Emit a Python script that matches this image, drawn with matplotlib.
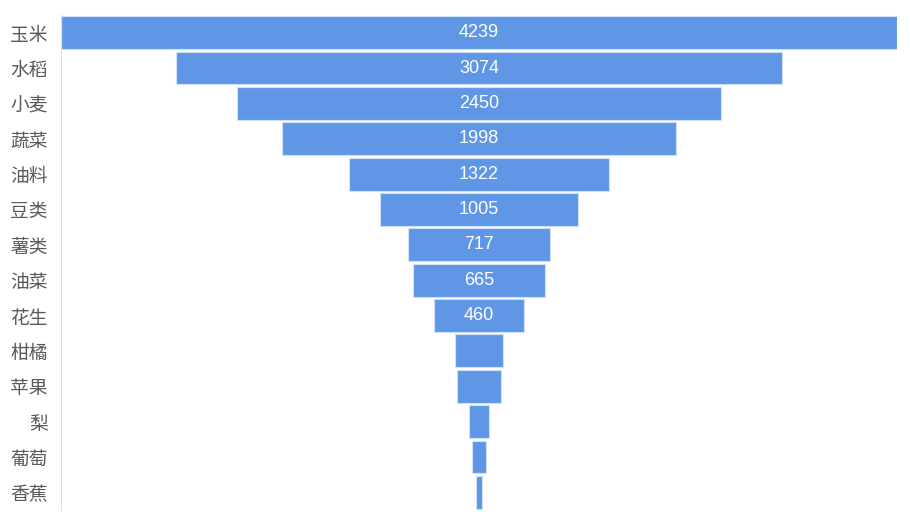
import matplotlib.pyplot as plt

plt.rcParams['font.family'] = ['Noto Sans CJK SC', 'DejaVu Sans']

crops = ['玉米', '水稻', '小麦', '蔬菜', '油料', '豆类', '薯类', '油菜', '花生', '柑橘', '苹果', '梨', '葡萄', '香蕉']
values = [4239, 3074, 2450, 1998, 1322, 1005, 717, 665, 460, 248, 228, 105, 71, 32]
shown = [True] * 9 + [False] * 5

fig = plt.figure(figsize=(9.1, 5.26), dpi=100)
ax = fig.add_axes([61 / 910, 1 - 510 / 526, 836 / 910, 495 / 526])

ypos = list(range(len(crops)))
lefts = [-v / 2 for v in values]
ax.barh(ypos, values, left=lefts, height=0.93, color='#5f97e6',
        edgecolor='#cfe0fa', linewidth=0.8)

for y, v, s in zip(ypos, values, shown):
    if s:
        ax.text(0, y, str(v), ha='center', va='center', color='white',
                fontsize=13, family='Liberation Sans')

half = max(values) / 2
ax.set_xlim(-half, half)
ax.set_ylim(len(crops) - 0.5, -0.5)
ax.set_yticks(ypos)
ax.set_yticklabels(crops, fontsize=13.5, color='#5a5a5a')
ax.tick_params(axis='y', length=0, pad=9.5)
ax.set_xticks([])
for side in ['top', 'right', 'bottom']:
    ax.spines[side].set_visible(False)
ax.spines['left'].set_color('#dddddd')

fig.savefig('out.png', dpi=100)
